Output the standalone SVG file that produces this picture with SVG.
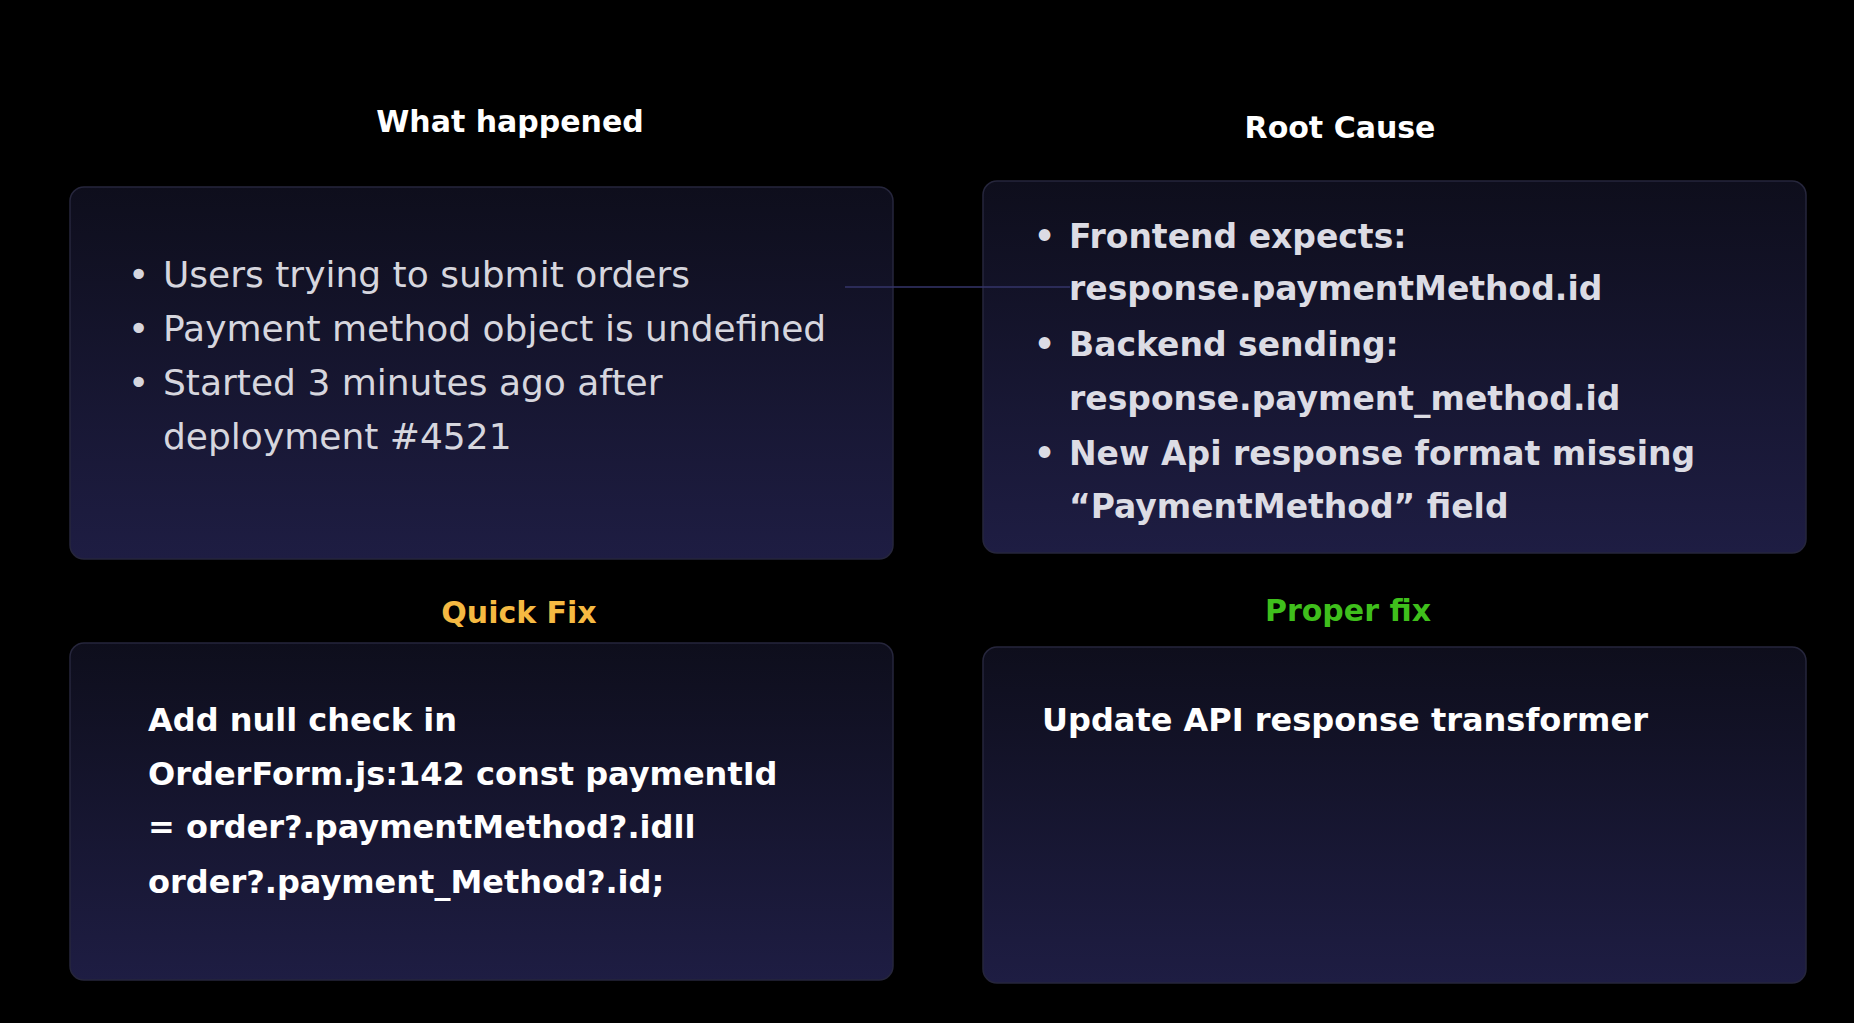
<svg xmlns="http://www.w3.org/2000/svg" width="1854" height="1023" viewBox="0 0 1854 1023">
<defs>
<linearGradient id="g" x1="0" y1="0" x2="0" y2="1"><stop offset="0" stop-color="#0e0e1c"/><stop offset="1" stop-color="#1e1d43"/></linearGradient>
<style>
.box{fill:url(#g);stroke:#26263c;stroke-width:1.5}
.t{font-family:"DejaVu Sans",sans-serif;font-weight:bold;font-size:30px;fill:#fff;text-anchor:middle}
.b{font-family:"DejaVu Sans",sans-serif;font-size:36px;fill:#d6d6de}
.s{font-family:"DejaVu Sans",sans-serif;font-weight:bold;font-size:33px;fill:#dcdce4}
.w{font-family:"DejaVu Sans",sans-serif;font-weight:bold;font-size:32px;fill:#fff}
</style>
</defs>
<rect width="1854" height="1023" fill="#000"/>
<g id="what-happened">
<text class="t" x="510" y="132">What happened</text>
<rect class="box" x="70" y="187" width="823" height="372" rx="14"/>
<text class="b" x="128" y="287">•</text><text class="b" x="163" y="287">Users trying to submit orders</text>
<text class="b" x="128" y="341">•</text><text class="b" x="163" y="341">Payment method object is undefined</text>
<text class="b" x="128" y="395">•</text><text class="b" x="163" y="395">Started 3 minutes ago after</text>
<text class="b" x="163" y="449">deployment #4521</text>
</g>
<g id="root-cause">
<text class="t" x="1340" y="138">Root Cause</text>
<rect class="box" x="983" y="181" width="823" height="372" rx="14"/>
<text class="s" x="1034" y="248">•</text><text class="s" x="1069" y="248">Frontend expects:</text>
<text class="s" x="1069" y="300">response.paymentMethod.id</text>
<text class="s" x="1034" y="356">•</text><text class="s" x="1069" y="356">Backend sending:</text>
<text class="s" x="1069" y="410">response.payment_method.id</text>
<text class="s" x="1034" y="465">•</text><text class="s" x="1069" y="465">New Api response format missing</text>
<text class="s" x="1069" y="518">“PaymentMethod” field</text>
</g>
<g id="quick-fix">
<text class="t" x="519" y="623" style="fill:#f5b942">Quick Fix</text>
<rect class="box" x="70" y="643" width="823" height="337" rx="14"/>
<text class="w" x="148" y="731">Add null check in</text>
<text class="w" x="148" y="785">OrderForm.js:142 const paymentId</text>
<text class="w" x="148" y="838">= order?.paymentMethod?.idll</text>
<text class="w" x="148" y="893">order?.payment_Method?.id;</text>
</g>
<g id="proper-fix">
<text class="t" x="1348" y="621" style="fill:#3fbf1c">Proper fix</text>
<rect class="box" x="983" y="647" width="823" height="336" rx="14"/>
<text class="w" x="1042" y="731">Update API response transformer</text>
</g>
<g id="connectors"><line x1="845" y1="287" x2="1070" y2="287" stroke="#34346a" stroke-width="1.5"/></g>
</svg>
